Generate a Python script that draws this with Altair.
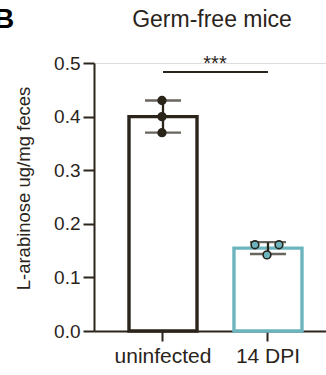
import altair as alt
import pandas as pd

# ---- data ----
categories = ["uninfected", "14 DPI"]
point_groups = ["uninfected", "uninfected", "uninfected", "14 DPI", "14 DPI", "14 DPI"]
point_values = [0.43, 0.40, 0.37, 0.161, 0.161, 0.142]
sig_from = "uninfected"
sig_to = "14 DPI"
sig_level = 0.483
sig_label = "***"
title_text = "Germ-free mice"
panel_letter = "B"
y_title = "L-arabinose ug/mg feces"
y_ticks = [0.0, 0.1, 0.2, 0.3, 0.4, 0.5]

DARK = "#2a241b"
TEAL = "#6cb5bf"
FONT = "Liberation Sans"

# dodge overlapping points (beeswarm-like): -1 / 0 / 1 slots
dodge = []
for i, (g, v) in enumerate(zip(point_groups, point_values)):
    near = [j for j, (g2, v2) in enumerate(zip(point_groups, point_values))
            if g2 == g and abs(v2 - v) < 0.006]
    if len(near) > 1:
        k = near.index(i)
        dodge.append(str(int(-1 + 2 * k / (len(near) - 1))))
    else:
        dodge.append("0")

pts = pd.DataFrame({"group": point_groups, "value": point_values, "dodge": dodge})
sig = pd.DataFrame({"a": [sig_from], "b": [sig_to], "y": [sig_level], "label": [sig_label]})
ttl = pd.DataFrame({"t": [title_text]})
let = pd.DataFrame({"t": [panel_letter]})

xscale = alt.Scale(domain=categories, paddingInner=0.352, paddingOuter=0.281, align=0.593)
yscale = alt.Scale(domain=[0, 0.5], nice=False)
color_scale = alt.Scale(domain=categories, range=[DARK, TEAL])

x_axis = alt.Axis(title=None, labelAngle=0)
y_axis = alt.Axis(title=y_title, values=y_ticks, format=".1f", grid=False)

base = alt.Chart(pts)

bars = base.mark_bar(fill="white", strokeWidth=3.4).encode(
    x=alt.X("group:N", scale=xscale, sort=categories, axis=x_axis),
    y=alt.Y("mean(value):Q", scale=yscale, axis=y_axis),
    stroke=alt.Color("group:N", scale=color_scale, legend=None),
)

err = base.mark_errorbar(extent="stdev", color=DARK, thickness=2.3,
                         ticks={"size": 36, "thickness": 2.3, "color": DARK}).encode(
    x=alt.X("group:N", scale=xscale, sort=categories, axis=x_axis),
    y=alt.Y("value:Q", scale=yscale, axis=y_axis),
)

points = base.mark_point(filled=True, size=60, strokeWidth=1.6, stroke=DARK, opacity=1).encode(
    x=alt.X("group:N", scale=xscale, sort=categories, axis=x_axis),
    y=alt.Y("value:Q", scale=yscale, axis=y_axis),
    xOffset=alt.XOffset("dodge:N", sort=["-1", "0", "1"],
                        scale=alt.Scale(domain=["-1", "0", "1"], paddingInner=0,
                                        paddingOuter=0, range=[21, 45])),
    fill=alt.Color("group:N", scale=color_scale, legend=None),
)

sig_rule = alt.Chart(sig).mark_rule(color=DARK, strokeWidth=2).encode(
    x=alt.X("a:N", scale=xscale, sort=categories, axis=x_axis),
    x2="b:N",
    y=alt.Y("y:Q", scale=yscale, axis=y_axis),
)
sig_text = alt.Chart(sig).mark_text(fontSize=20, font=FONT, color=DARK,
                                    baseline="alphabetic", dy=-2, dx=52).encode(
    x=alt.X("a:N", scale=xscale, sort=categories, axis=x_axis),
    y=alt.Y("y:Q", scale=yscale, axis=y_axis),
    text="label:N",
)

title_mark = alt.Chart(ttl).mark_text(fontSize=23, font=FONT, color=DARK,
                                      align="center", baseline="alphabetic").encode(
    x=alt.value(118), y=alt.value(-36), text="t:N")

letter = alt.Chart(let).mark_text(
    fontSize=28, fontWeight="bold", font=FONT, color="black",
    align="left", baseline="alphabetic").encode(
    x=alt.value(-100), y=alt.value(-35), text="t:N")

chart = alt.layer(bars, err, points, sig_rule, sig_text, title_mark, letter).resolve_scale(
    xOffset="independent"
).properties(
    width=232, height=268,
    autosize=alt.AutoSizeParams(type="none"),
    padding={"left": 94, "top": 63, "right": 0, "bottom": 44},
).configure_view(stroke=None).configure(background="white").configure_axis(
    domainColor=DARK, domainWidth=2, tickColor=DARK, tickWidth=2,
    labelColor=DARK, labelFont=FONT, titleFont=FONT, titleColor=DARK,
    titleFontWeight="normal",
).configure_axisX(
    labelFontSize=21, tickSize=10, labelPadding=4,
).configure_axisY(
    labelFontSize=19, tickSize=11, labelPadding=3, titleFontSize=18.5, titlePadding=20,
    titleY=125,
)

chart.save("out.html", embed_options={"renderer": "svg", "actions": False})
